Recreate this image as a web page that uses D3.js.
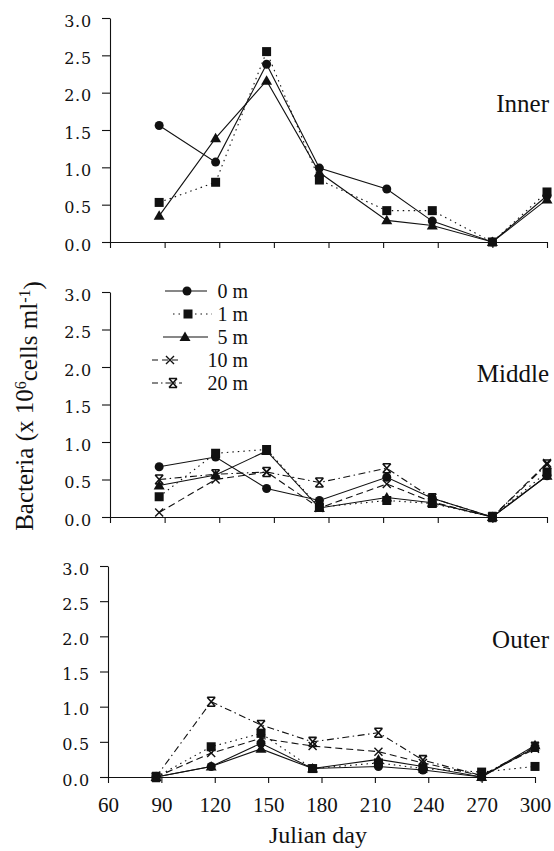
<!DOCTYPE html>
<html>
<head>
<meta charset="utf-8">
<script src="https://cdn.jsdelivr.net/npm/d3@7/dist/d3.min.js"></script>
<style>
  body { margin: 0; background: #fff; }
  svg text { fill: #111; }
</style>
</head>
<body>
<svg id="chart" width="554" height="851"></svg>
<script>
// sampling days (Julian day) and depths
const days = [87, 118, 146, 175, 212, 237, 270, 300];
const depths = ["0 m", "1 m", "5 m", "10 m", "20 m"];
const xTicks = [60, 90, 120, 150, 180, 210, 240, 270, 300];
const yTicks = [0, 0.5, 1, 1.5, 2, 2.5, 3];

// Inner station
const inner0m = [1.56, 1.07, 2.38, 0.99, 0.71, 0.28, 0.0, 0.62];
const inner1m = [0.53, 0.80, 2.55, 0.83, 0.42, 0.42, 0.0, 0.67];
const inner5m = [0.35, 1.39, 2.16, 0.93, 0.29, 0.22, 0.0, 0.57];

// Middle station
const middle0m = [0.67, 0.80, 0.38, 0.22, 0.53, 0.25, 0.0, 0.55];
const middle1m = [0.27, 0.85, 0.90, 0.13, 0.22, 0.18, 0.0, 0.60];
const middle5m = [0.42, 0.56, 0.88, 0.12, 0.26, 0.19, 0.0, 0.55];
const middle10m = [0.06, 0.50, 0.60, 0.12, 0.44, 0.20, 0.0, 0.72];
const middle20m = [0.50, 0.57, 0.60, 0.46, 0.65, 0.25, 0.0, 0.70];

// Outer station
const outer0m = [0.0, 0.15, 0.48, 0.12, 0.15, 0.10, 0.0, 0.42];
const outer1m = [0.0, 0.43, 0.62, 0.12, 0.20, 0.12, 0.07, 0.15];
const outer5m = [0.0, 0.15, 0.40, 0.12, 0.25, 0.15, 0.0, 0.45];
const outer10m = [0.0, 0.34, 0.55, 0.44, 0.36, 0.20, 0.02, 0.40];
const outer20m = [0.0, 1.07, 0.74, 0.50, 0.63, 0.24, 0.02, 0.43];

const svg = d3.select("#chart");
const ink = "#111";

// line + marker style per depth
const styles = {
  "0 m":  { dash: null,            marker: "circle" },
  "1 m":  { dash: "1.5,4",         marker: "square" },
  "5 m":  { dash: null,            marker: "triangle" },
  "10 m": { dash: "7,4",           marker: "cross" },
  "20 m": { dash: "7,3.5,1.5,3.5", marker: "bowtie" }
};

// panel layout
const panels = [
  { name: "Inner",  series: [inner0m, inner1m, inner5m], left: 110, right: 547, top: 18,  bottom: 242, labelY: 112, xLabels: false },
  { name: "Middle", series: [middle0m, middle1m, middle5m, middle10m, middle20m], left: 110, right: 547, top: 292, bottom: 517, labelY: 382, xLabels: false },
  { name: "Outer",  series: [outer0m, outer1m, outer5m, outer10m, outer20m], left: 108, right: 535, top: 566, bottom: 777, labelY: 648, xLabels: true }
];

function drawMarker(g, type, x, y) {
  if (type === "circle") {
    g.append("circle").attr("cx", x).attr("cy", y).attr("r", 4.5).attr("fill", ink);
  } else if (type === "square") {
    g.append("rect").attr("x", x - 4.5).attr("y", y - 4.5).attr("width", 9).attr("height", 9).attr("fill", ink);
  } else if (type === "triangle") {
    g.append("path").attr("d", `M${x},${y - 5.5}L${x + 5.5},${y + 4}L${x - 5.5},${y + 4}Z`).attr("fill", ink);
  } else if (type === "cross") {
    g.append("path").attr("d", `M${x - 4},${y - 4}L${x + 4},${y + 4}M${x - 4},${y + 4}L${x + 4},${y - 4}`)
      .attr("stroke", ink).attr("stroke-width", 1.4).attr("fill", "none");
  } else if (type === "bowtie") {
    g.append("path").attr("d", `M${x - 4},${y - 4.5}L${x + 4},${y + 4.5}M${x - 4},${y + 4.5}L${x + 4},${y - 4.5}M${x - 4},${y - 4.5}H${x + 4}M${x - 4},${y + 4.5}H${x + 4}`)
      .attr("stroke", ink).attr("stroke-width", 1.6).attr("fill", "none");
  }
}

panels.forEach(p => {
  const x = d3.scaleLinear().domain([60, 300]).range([p.left, p.right]);
  const y = d3.scaleLinear().domain([0, 3]).range([p.bottom, p.top]);
  const g = svg.append("g");

  // y axis
  const yAxis = g.append("g")
    .attr("transform", `translate(${p.left},0)`)
    .call(d3.axisLeft(y).tickValues(yTicks).tickFormat(d3.format(".1f")).tickSize(8).tickSizeOuter(0).tickPadding(10));
  yAxis.selectAll("text")
    .attr("dy", "0.5em")
    .style("font-family", "'DejaVu Serif', serif")
    .style("font-size", "16px")
    .style("letter-spacing", "0.8px");

  // x axis
  const xAxis = g.append("g")
    .attr("transform", `translate(0,${p.bottom})`)
    .call(d3.axisBottom(x).tickValues(xTicks).tickSize(6).tickSizeOuter(0).tickPadding(14));
  if (!p.xLabels) xAxis.selectAll("text").remove();
  else xAxis.selectAll("text")
    .style("font-family", "'Liberation Serif', 'Times New Roman', serif")
    .style("font-size", "21px");

  g.selectAll(".domain, .tick line").attr("stroke", ink).attr("stroke-width", 1.1);

  // series lines
  const line = d3.line().x((d, i) => x(days[i])).y(d => y(d));
  p.series.forEach((vals, si) => {
    const st = styles[depths[si]];
    g.append("path")
      .datum(vals)
      .attr("d", line)
      .attr("fill", "none")
      .attr("stroke", ink)
      .attr("stroke-width", 1.1)
      .attr("stroke-dasharray", st.dash);
  });
  p.series.forEach((vals, si) => {
    const st = styles[depths[si]];
    const mg = g.append("g");
    vals.forEach((v, i) => drawMarker(mg, st.marker, x(days[i]), y(v)));
  });

  // station label
  g.append("text")
    .attr("x", 549).attr("y", p.labelY)
    .attr("text-anchor", "end")
    .style("font-family", "'Liberation Serif', 'Times New Roman', serif")
    .style("font-size", "25px")
    .text(p.name);
});

// legend (in the middle panel)
const legendRows = [291, 314, 337, 360, 383];
const legendLines = [[165, 207], [173, 212], [163, 208], [152, 181], [152, 182]];
const legendMarkX = [187, 188, 185, 170, 173];
const legend = svg.append("g");
depths.forEach((dname, i) => {
  const st = styles[dname];
  const ly = legendRows[i];
  legend.append("line")
    .attr("x1", legendLines[i][0]).attr("x2", legendLines[i][1])
    .attr("y1", ly).attr("y2", ly)
    .attr("stroke", ink).attr("stroke-width", 1.1)
    .attr("stroke-dasharray", st.dash ? (i === 4 ? "6,3,1.5,3" : (i === 3 ? "6,4" : st.dash)) : null);
  drawMarker(legend, st.marker, legendMarkX[i], ly);
  legend.append("text")
    .attr("x", 248).attr("y", ly + 7)
    .attr("text-anchor", "end")
    .style("font-family", "'Liberation Serif', 'Times New Roman', serif")
    .style("font-size", "20px")
    .text(dname);
});

// axis titles
svg.append("text")
  .attr("x", 318).attr("y", 843)
  .attr("text-anchor", "middle")
  .style("font-family", "'Liberation Serif', 'Times New Roman', serif")
  .style("font-size", "24px")
  .text("Julian day");

const yTitle = svg.append("text")
  .attr("transform", "translate(33,406) rotate(-90)")
  .attr("text-anchor", "middle")
  .style("font-family", "'Liberation Serif', 'Times New Roman', serif")
  .style("font-size", "25px");
yTitle.append("tspan").text("Bacteria (x 10");
yTitle.append("tspan").attr("dy", "-0.45em").style("font-size", "16px").text("6");
yTitle.append("tspan").attr("dy", "0.45em").text("cells ml");
yTitle.append("tspan").attr("dy", "-0.45em").style("font-size", "16px").text("-1");
yTitle.append("tspan").attr("dy", "0.45em").text(")");
</script>
</body>
</html>
